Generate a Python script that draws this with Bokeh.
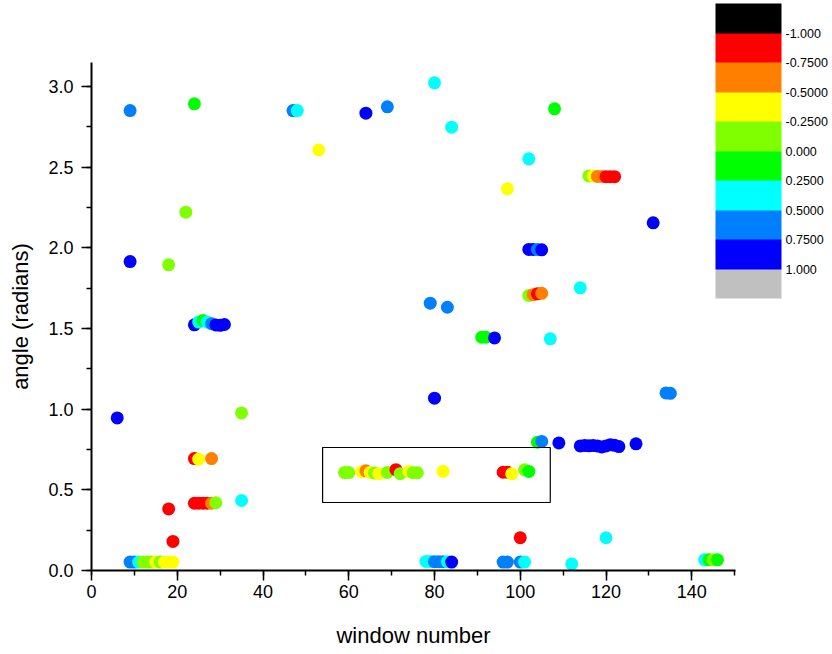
from bokeh.plotting import figure
from bokeh.models import (LinearColorMapper, ColorBar, FixedTicker, SingleIntervalTicker,
                          NumeralTickFormatter, ColumnDataSource, Range1d, AllLabels)
from bokeh.transform import transform
from bokeh.embed import file_html
from bokeh.resources import INLINE

# ---------------- data ----------------
window = [6, 9, 9, 9, 10, 11, 12, 13, 14, 15, 16, 17, 18, 19,
          18, 18, 19, 22, 24,
          24, 25, 26, 27, 28, 29, 30, 31,
          24, 25, 28,
          24, 25, 26, 27, 28, 29,
          35, 35, 47, 48, 53,
          59, 60, 63, 64, 65, 66, 67, 69, 71, 72, 74, 75, 76, 82,
          64, 69,
          78, 79, 80, 81, 82, 83, 84,
          79, 80, 80, 83, 84,
          91, 92, 94,
          96, 97, 98,
          96, 97, 97,
          100, 100, 101,
          101, 102, 102,
          102, 103, 104, 105,
          102, 103, 104, 105,
          104, 105, 107, 108, 109, 112,
          114, 115, 116, 117, 118, 119, 120, 121, 122, 123,
          114,
          116, 117, 118, 119, 120, 121, 122,
          120, 127, 131, 134, 135,
          143, 144, 145, 146]

angle = [0.946, 2.851, 1.915, 0.052, 0.052, 0.052, 0.052, 0.052, 0.052, 0.052, 0.052, 0.052, 0.052, 0.052,
         1.895, 0.382, 0.180, 2.221, 2.893,
         1.523, 1.540, 1.550, 1.540, 1.530, 1.522, 1.520, 1.525,
         0.694, 0.690, 0.694,
         0.417, 0.417, 0.417, 0.417, 0.417, 0.420,
         0.977, 0.434, 2.851, 2.851, 2.607,
         0.607, 0.607, 0.612, 0.618, 0.608, 0.605, 0.600, 0.608, 0.625, 0.600, 0.614, 0.606, 0.606, 0.615,
         2.835, 2.874,
         0.056, 0.056, 0.055, 0.055, 0.055, 0.055, 0.052,
         1.657, 3.023, 1.068, 1.632, 2.748,
         1.446, 1.446, 1.442,
         0.609, 0.609, 0.599,
         0.052, 0.052, 2.366,
         0.203, 0.052, 0.052,
         0.624, 0.614, 2.552,
         1.990, 1.990, 1.990, 1.988,
         1.705, 1.710, 1.715, 1.718,
         0.795, 0.800, 1.436, 2.862, 0.791, 0.041,
         0.772, 0.775, 0.773, 0.775, 0.772, 0.766, 0.772, 0.780, 0.776, 0.768,
         1.752,
         2.446, 2.446, 2.443, 2.443, 2.441, 2.441, 2.441,
         0.203, 0.785, 2.155, 1.101, 1.098,
         0.066, 0.066, 0.066, 0.066]

corr = [0.92, 0.62, 0.88, 0.58, 0.55, 0.41, -0.08, -0.12, -0.15, -0.31, -0.20, -0.35, -0.40, -0.42,
        -0.10, -0.82, -0.86, -0.05, 0.12,
        0.85, 0.35, 0.15, 0.40, 0.60, 0.80, 0.84, 0.90,
        -0.80, -0.45, -0.60,
        -0.90, -0.85, -0.88, -0.80, -0.70, -0.20,
        -0.10, 0.30, 0.65, 0.45, -0.30,
        -0.10, -0.15, -0.35, -0.60, -0.38, -0.12, -0.40, -0.18, -0.85, -0.14, -0.33, -0.11, -0.16, -0.44,
        0.86, 0.70,
        0.30, 0.45, 0.55, 0.60, 0.70, 0.48, 0.95,
        0.65, 0.30, 0.82, 0.60, 0.35,
        0.10, 0.05, 0.90,
        -0.90, -0.85, -0.40,
        0.60, 0.65, -0.45,
        -0.95, 0.70, 0.30,
        -0.05, 0.02, 0.40,
        0.88, 0.91, 0.66, 0.86,
        -0.10, -0.62, -0.90, -0.58,
        0.10, 0.62, 0.38, 0.20, 0.88, 0.42,
        0.90, 0.86, 0.92, 0.88, 0.95, 0.84, 0.90, 0.87, 0.93, 0.89,
        0.33,
        -0.22, -0.40, -0.66, -0.60, -0.80, -0.85, -0.90,
        0.36, 0.85, 0.90, 0.60, 0.62,
        0.30, 0.08, -0.06, 0.12]

palette = ["#000000", "#FF0000", "#FF8000", "#FFFF00", "#80FF00",
           "#00FF00", "#00FFFF", "#0080FF", "#0000FF", "#C0C0C0"]
cb_ticks = [-1.0, -0.75, -0.5, -0.25, 0.0, 0.25, 0.5, 0.75, 1.0]
cb_labels = ["-1.000", "-0.7500", "-0.5000", "-0.2500", "0.000",
             "0.2500", "0.5000", "0.7500", "1.000"]

# highlighted region (window number / angle)
box_left, box_right, box_bottom, box_top = 53.9, 107.0, 0.4215, 0.7624

FONT = "Liberation Sans"

src = ColumnDataSource(dict(window=window, angle=angle, corr=corr))

p = figure(width=824, height=650, output_backend="svg", toolbar_location=None,
           x_range=Range1d(0, 150.2), y_range=Range1d(0, 3.149),
           min_border_left=83, min_border_right=94, min_border_top=59, min_border_bottom=83,
           margin=(3, 0, 0, 5))
p.outline_line_color = None
p.xgrid.visible = False
p.ygrid.visible = False
p.background_fill_color = "white"

mapper = LinearColorMapper(palette=palette, low=-1.25, high=1.25)
p.scatter("window", "angle", source=src, size=13,
          fill_color=transform("corr", mapper), line_color=None)

p.quad(left=[box_left], right=[box_right], bottom=[box_bottom], top=[box_top],
       fill_color=None, line_color="black", line_width=1.2)

# axes
p.xaxis.ticker = SingleIntervalTicker(interval=20, num_minor_ticks=2)
p.yaxis.ticker = SingleIntervalTicker(interval=0.5, num_minor_ticks=2)
p.yaxis.formatter = NumeralTickFormatter(format="0.0")
p.xaxis.axis_label = "window number"
p.yaxis.axis_label = "angle (radians)"
for ax in (p.xaxis[0], p.yaxis[0]):
    ax.axis_line_width = 2
    ax.axis_line_color = "black"
    ax.major_tick_out = 10
    ax.major_tick_in = 0
    ax.minor_tick_out = 5
    ax.minor_tick_in = 0
    ax.major_tick_line_width = 1.5
    ax.minor_tick_line_width = 1.5
    ax.major_tick_line_color = "black"
    ax.minor_tick_line_color = "black"
    ax.major_label_text_font = FONT
    ax.major_label_text_font_size = "18px"
    ax.major_label_text_color = "black"
    ax.axis_label_text_font = FONT
    ax.axis_label_text_font_size = "22px"
    ax.axis_label_text_font_style = "normal"
    ax.axis_label_text_color = "black"
p.xaxis.major_label_standoff = 4
p.yaxis.major_label_standoff = 8
p.xaxis.axis_label_standoff = 22
p.yaxis.axis_label_standoff = 12

# colour scale (shown with -1 at the top)
cb_mapper = LinearColorMapper(palette=palette[::-1], low=-1.25, high=1.25)
cb = ColorBar(color_mapper=cb_mapper,
              ticker=FixedTicker(ticks=[0.0 - t for t in cb_ticks[::-1]]),
              major_label_overrides={(0.0 - t): lab for t, lab in zip(cb_ticks, cb_labels)},
              major_label_policy=AllLabels(),
              major_label_text_font=FONT, major_label_text_font_size="12.5px",
              major_label_text_color="black", label_standoff=4,
              major_tick_line_color=None, minor_tick_line_color=None,
              bar_line_color=None, border_line_color=None, background_fill_alpha=0,
              padding=0, margin=0, width=66, height=295, location=(624, 272))
p.add_layout(cb, "center")

open("out.html", "w").write(file_html(p, INLINE))
